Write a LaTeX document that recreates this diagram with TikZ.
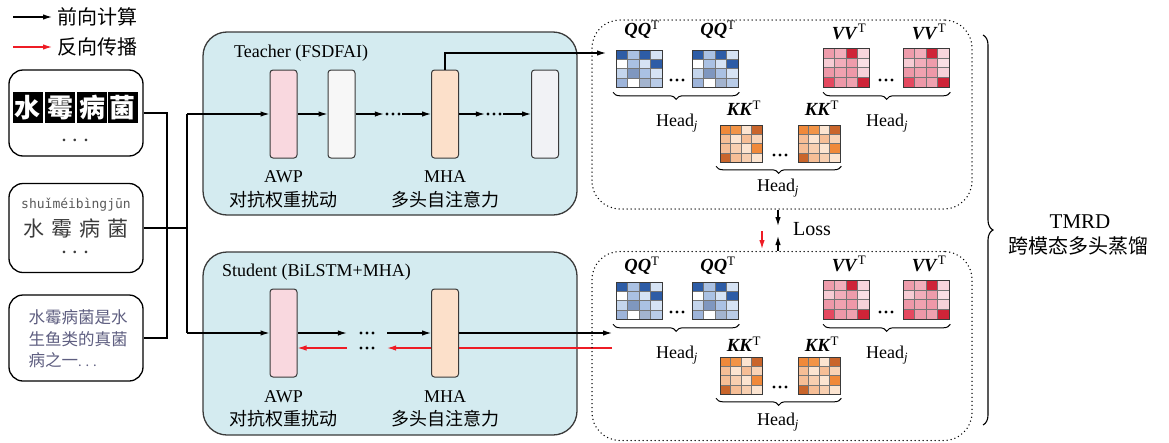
\documentclass[tikz,border=0pt]{standalone}
\usepackage{fontspec}
\setmainfont{Liberation Serif}
\newfontfamily\cjk{Noto Sans CJK SC}
\newfontfamily\pymono{DejaVu Sans Mono}
\usetikzlibrary{arrows.meta,decorations.pathreplacing}
\newcommand\myfs[1]{\fontsize{#1}{#1}\selectfont}
\definecolor{panelc}{HTML}{D4EBF0}
\definecolor{awpc}{HTML}{F9D8DF}
\definecolor{wc}{HTML}{F7F7F7}
\definecolor{mhac}{HTML}{FCE0CA}
\definecolor{lastc}{HTML}{F1F2F5}
\definecolor{edgec}{HTML}{3A3A3A}
\definecolor{redc}{HTML}{EE1C25}
\definecolor{txtgray}{HTML}{3C3C3C}
\definecolor{pygray}{HTML}{5A5A5A}
\definecolor{purpgray}{HTML}{5E5E80}
% blue QQ
\definecolor{q11}{HTML}{2D5CA6}\definecolor{q12}{HTML}{AAC1E3}\definecolor{q13}{HTML}{2D5CA6}\definecolor{q14}{HTML}{D6E3F4}
\definecolor{q21}{HTML}{FFFFFF}\definecolor{q22}{HTML}{AAC1E3}\definecolor{q23}{HTML}{D6E3F4}\definecolor{q24}{HTML}{2D5CA6}
\definecolor{q31}{HTML}{C4D5EC}\definecolor{q32}{HTML}{7F97BF}\definecolor{q33}{HTML}{AAC1E3}\definecolor{q34}{HTML}{D6E3F4}
\definecolor{q41}{HTML}{9DB4DA}\definecolor{q42}{HTML}{FFFFFF}\definecolor{q43}{HTML}{A3B4CF}\definecolor{q44}{HTML}{B9CCE8}
% red VV
\definecolor{v11}{HTML}{EE9CAB}\definecolor{v12}{HTML}{F2AEBB}\definecolor{v13}{HTML}{CE2438}\definecolor{v14}{HTML}{F8D6DD}
\definecolor{v21}{HTML}{F7CCD4}\definecolor{v22}{HTML}{F2AEBB}\definecolor{v23}{HTML}{EE9CAB}\definecolor{v24}{HTML}{FADFE4}
\definecolor{v31}{HTML}{EE98A8}\definecolor{v32}{HTML}{F0A2B0}\definecolor{v33}{HTML}{EE98A8}\definecolor{v34}{HTML}{F7D2D9}
\definecolor{v41}{HTML}{E5485F}\definecolor{v42}{HTML}{EE98A8}\definecolor{v43}{HTML}{F0A2B0}\definecolor{v44}{HTML}{CE2438}
% orange KK
\definecolor{k11}{HTML}{F0893A}\definecolor{k12}{HTML}{F29447}\definecolor{k13}{HTML}{FCE4D0}\definecolor{k14}{HTML}{C9652B}
\definecolor{k21}{HTML}{F6BE96}\definecolor{k22}{HTML}{FCE4D0}\definecolor{k23}{HTML}{F6BE96}\definecolor{k24}{HTML}{F9D3B6}
\definecolor{k31}{HTML}{F6BE96}\definecolor{k32}{HTML}{F8CFB0}\definecolor{k33}{HTML}{FCE4D0}\definecolor{k34}{HTML}{F0893A}
\definecolor{k41}{HTML}{C9652B}\definecolor{k42}{HTML}{F6BE96}\definecolor{k43}{HTML}{F8CFB0}\definecolor{k44}{HTML}{FCE4D0}
\newcommand\hmat[6]{%
  \foreach \rr in {1,2,3,4}{\foreach \cc in {1,2,3,4}{%
    \fill[fill=#6\rr\cc] ({#2+(\cc-1)*#4/4},{#3+(\rr-1)*#5/4}) rectangle ++({#4/4},{#5/4});}}%
  \foreach \ii in {1,2,3}{%
    \draw[cellln] ({#2+\ii*#4/4},#3) -- ++(0,#5);
    \draw[cellln] (#2,{#3+\ii*#5/4}) -- ++(#4,0);}%
  \node[matbox,minimum width=#4pt,minimum height=#5pt,anchor=north west] (#1) at (#2,#3) {};%
}
\begin{document}
\begin{tikzpicture}[x=1pt,y=-1pt,
  conn/.style={line width=1.2pt},
  arr/.style={line width=1.2pt,-{Latex[length=9pt,width=5.5pt]}},
  rarr/.style={line width=1.2pt,draw=redc,-{Latex[length=9pt,width=5.5pt]}},
  rline/.style={line width=1.2pt,draw=redc},
  inbox/.style={draw,line width=1.3pt,rounded corners=14pt,minimum width=134pt,inner sep=0pt},
  panel/.style={draw=edgec,line width=1.3pt,fill=panelc,rounded corners=24pt,minimum width=374pt,minimum height=183pt,inner sep=0pt},
  layer/.style={draw=edgec,line width=1pt,rounded corners=3pt,minimum width=27pt,minimum height=88pt,inner sep=0pt},
  dotbox/.style={draw,line width=1.5pt,dash pattern=on 0pt off 4pt,line cap=round,rounded corners=28pt,minimum width=380pt,minimum height=189pt,inner sep=0pt},
  cellln/.style={draw=edgec!70,line width=0.5pt},
  matbox/.style={draw=edgec,line width=1.3pt,inner sep=0pt},
  ddd/.style={minimum width=18pt,minimum height=6pt,inner sep=0pt,path picture={\foreach \kk in {-6,0,6}{\fill ([xshift=\kk pt]path picture bounding box.center) circle (1.6pt);}}},
  en/.style={font=\myfs{18},inner sep=0pt},
  cn/.style={font=\cjk\myfs{18},inner sep=0pt},
  mlab/.style={font=\myfs{18.5},inner sep=0pt},
  hlab/.style={font=\myfs{18},inner sep=0pt},
  mbrace/.style={decorate,decoration={brace,amplitude=7pt},line width=1pt},
]
\useasboundingbox (0,0) rectangle (1169,442);

% legend
\coordinate (lga) at (13,17); \coordinate (lgb) at (52,17);
\draw[arr] (lga) -- (lgb);
\node[font=\cjk\myfs{20},anchor=west,inner sep=0pt] (lgt) at (57,17) {前向计算};
\coordinate (lra) at (13,47); \coordinate (lrb) at (52,47);
\draw[rarr] (lra) -- (lrb);
\node[font=\cjk\myfs{20},anchor=west,inner sep=0pt] (lrt) at (57,47) {反向传播};

% inputs
\node[inbox,minimum height=86pt] (in1) at (76,113) {};
\foreach \ch/\xx [count=\i] in {水/27.5,霉/60,病/92,菌/122.5}
  \node[fill=black,text=white,minimum width=30pt,minimum height=31pt,inner sep=0pt,font=\cjk\bfseries\myfs{26}] (sq\i) at (\xx,107.5) {\ch};
\node[font=\bfseries\myfs{16},text=txtgray,inner sep=0pt] (in1d) at (75,140) {.\hspace{7pt}.\hspace{7pt}.};

\node[inbox,minimum height=89pt] (in2) at (76,228) {};
\node[font=\pymono\myfs{13},text=pygray,inner sep=0pt] (py) at (76,205) {shuǐméibìngjūn};
\node[font=\cjk\myfs{21},text=txtgray,inner sep=0pt] (b2c) at (76,229) {水\hspace{7pt}霉\hspace{7pt}病\hspace{7pt}菌};
\node[font=\bfseries\myfs{16},text=txtgray,inner sep=0pt] (in2d) at (75,252) {.\hspace{7pt}.\hspace{7pt}.};

\node[inbox,minimum height=86pt] (in3) at (76,338) {};
\node[font=\cjk\fontsize{16.5}{21.5}\selectfont,text=purpgray,align=left,inner sep=0pt] (b3t) at (78,339) {水霉病菌是水\\生鱼类的真菌\\病之一{\myfs{13}.\hspace{4pt}.\hspace{4pt}.}};

% connectors from inputs
\coordinate (m1) at (167,113); \coordinate (m3) at (167,338);
\coordinate (jt) at (187,114); \coordinate (jm) at (187,228); \coordinate (js) at (187,333);
\draw[conn] (in1.east) -- (m1) -- (m3) -- (in3.east);
\draw[conn] (in2.east) -- (jm);
\draw[conn] (jt) -- (js);

% panels
\node[panel] (tp) at (390,123.5) {};
\node[panel] (sp) at (390,343.5) {};
\node[en,anchor=west] (tpl) at (234,53) {Teacher (FSDFAI)};
\node[en,anchor=west] (spl) at (222,272) {Student (BiLSTM+MHA)};

% teacher layers
\node[layer,fill=awpc] (tawp) at (283.5,114) {};
\node[layer,fill=wc] (tw1) at (341.5,114) {};
\node[layer,fill=mhac] (tmha) at (445,114) {};
\node[layer,fill=lastc] (tlast) at (545,114) {};
\node[ddd] (td1) at (393,114) {};
\node[ddd] (td2) at (494,114) {};
\draw[arr] (jt) -- (tawp.west);
\draw[arr] (tawp.east) -- (tw1.west);
\draw[arr] (tw1.east) -- (td1.west);
\draw[arr] (td1.east) -- (tmha.west);
\draw[arr] (tmha.east) -- (td2.west);
\draw[arr] (td2.east) -- (tlast.west);
\node[en] (tawpl) at (283.5,177) {AWP};
\node[cn] (tawpc) at (283.5,200) {对抗权重扰动};
\node[en] (tmhal) at (445,177) {MHA};
\node[cn] (tmhac) at (445,200) {多头自注意力};

% student layers
\node[layer,fill=awpc] (sawp) at (283.5,333) {};
\node[layer,fill=mhac] (smha) at (445,333) {};
\node[ddd,minimum width=40pt] (sd1) at (367,333) {};
\node[ddd,minimum width=40pt] (sd2) at (367,348) {};
\draw[arr] (js) -- (sawp.west);
\draw[arr] (sawp.east) -- (sd1.west);
\draw[arr] (sd1.east) -- (smha.west);
\coordinate (sout) at (612,333); \coordinate (sred) at (612,348);
\draw[arr] (smha.east) -- (sout);
\draw[rline] (sred) -- (sred -| smha.east);
\draw[rarr] (sred -| smha.west) -- (sd2.east);
\draw[rarr] (sd2.west) -- (sred -| sawp.east);
\node[en] (sawpl) at (283.5,397) {AWP};
\node[cn] (sawpc) at (283.5,419) {对抗权重扰动};
\node[en] (smhal) at (445,397) {MHA};
\node[cn] (smhac) at (445,419) {多头自注意力};

% dotted regions
\node[dotbox] (tdb) at (782,114.5) {};
\node[dotbox,minimum height=189pt] (sdb) at (782,346) {};
\coordinate (tin) at (606,53);
\draw[arr] (tmha.north) |- (tin);

% teacher matrices
\hmat{tq1}{616}{50}{46}{37}{q}
\hmat{tq2}{692}{50}{46}{37}{q}
\hmat{tv1}{823}{48}{46}{39}{v}
\hmat{tv2}{903}{48}{46}{39}{v}
\hmat{tk1}{720}{125}{42}{37}{k}
\hmat{tk2}{798}{125}{42}{37}{k}
\node[mlab] (tq1l) at (642,30) {\textbf{\textit{QQ}}\textsuperscript{T}};
\node[mlab] (tq2l) at (718,30) {\textbf{\textit{QQ}}\textsuperscript{T}};
\node[mlab] (tv1l) at (849,32) {\textbf{\textit{VV}}\textsuperscript{T}};
\node[mlab] (tv2l) at (929,32) {\textbf{\textit{VV}}\textsuperscript{T}};
\node[mlab] (tk1l) at (744,108) {\textbf{\textit{KK}}\textsuperscript{T}};
\node[mlab] (tk2l) at (822,108) {\textbf{\textit{KK}}\textsuperscript{T}};
\node[ddd] (tqd) at (677,80) {};
\node[ddd] (tvd) at (886,80) {};
\node[ddd] (tkd) at (780,155) {};
\draw[mbrace] ([yshift=-4pt]tq2.south east) -- ([yshift=-4pt,xshift=-3pt]tq1.south west);
\draw[mbrace] ([yshift=-4pt]tv2.south east) -- ([yshift=-4pt]tv1.south west);
\draw[mbrace] ([yshift=-3pt]tk2.south east) -- ([yshift=-3pt,xshift=-4pt]tk1.south west);
\node[hlab] (tqh) at (677,123) {Head\textsubscript{\textit{j}}};
\node[hlab] (tvh) at (887,123) {Head\textsubscript{\textit{j}}};
\node[hlab] (tkh) at (778,188) {Head\textsubscript{\textit{j}}};

% student matrices
\hmat{sq1}{616}{282}{46}{37}{q}
\hmat{sq2}{692}{282}{46}{37}{q}
\hmat{sv1}{823}{280}{46}{39}{v}
\hmat{sv2}{903}{280}{46}{39}{v}
\hmat{sk1}{720}{357}{42}{37}{k}
\hmat{sk2}{798}{357}{42}{37}{k}
\node[mlab] (sq1l) at (642,266) {\textbf{\textit{QQ}}\textsuperscript{T}};
\node[mlab] (sq2l) at (718,266) {\textbf{\textit{QQ}}\textsuperscript{T}};
\node[mlab] (sv1l) at (849,264) {\textbf{\textit{VV}}\textsuperscript{T}};
\node[mlab] (sv2l) at (929,264) {\textbf{\textit{VV}}\textsuperscript{T}};
\node[mlab] (sk1l) at (744,344) {\textbf{\textit{KK}}\textsuperscript{T}};
\node[mlab] (sk2l) at (822,344) {\textbf{\textit{KK}}\textsuperscript{T}};
\node[ddd] (sqd) at (677,312) {};
\node[ddd] (svd) at (886,312) {};
\node[ddd] (skd) at (780,387) {};
\draw[mbrace] ([yshift=-4pt]sq2.south east) -- ([yshift=-4pt,xshift=-3pt]sq1.south west);
\draw[mbrace] ([yshift=-4pt]sv2.south east) -- ([yshift=-4pt]sv1.south west);
\draw[mbrace] ([yshift=-3pt]sk2.south east) -- ([yshift=-3pt,xshift=-4pt]sk1.south west);
\node[hlab] (sqh) at (677,355) {Head\textsubscript{\textit{j}}};
\node[hlab] (svh) at (887,355) {Head\textsubscript{\textit{j}}};
\node[hlab] (skh) at (778,422) {Head\textsubscript{\textit{j}}};

% loss
\coordinate (ld) at (778,226); \coordinate (lu) at (778,236);
\draw[arr] (tdb.south -| ld) -- (ld);
\draw[arr] (sdb.north -| lu) -- (lu);
\coordinate (rd1) at (762,231); \coordinate (rd2) at (762,249);
\draw[rarr] (rd1) -- (rd2);
\node[font=\myfs{20},inner sep=0pt] (loss) at (812,229) {Loss};

% big brace
\coordinate (bt) at (983,35); \coordinate (bb) at (983,425);
\draw[decorate,decoration={brace,amplitude=10pt},line width=1.1pt] (bt) -- (bb);
\node[font=\myfs{21},inner sep=0pt] (tmrd) at (1080,222) {TMRD};
\node[font=\cjk\myfs{20},inner sep=0pt] (tmrdc) at (1078,246) {跨模态多头蒸馏};
\end{tikzpicture}
\end{document}
